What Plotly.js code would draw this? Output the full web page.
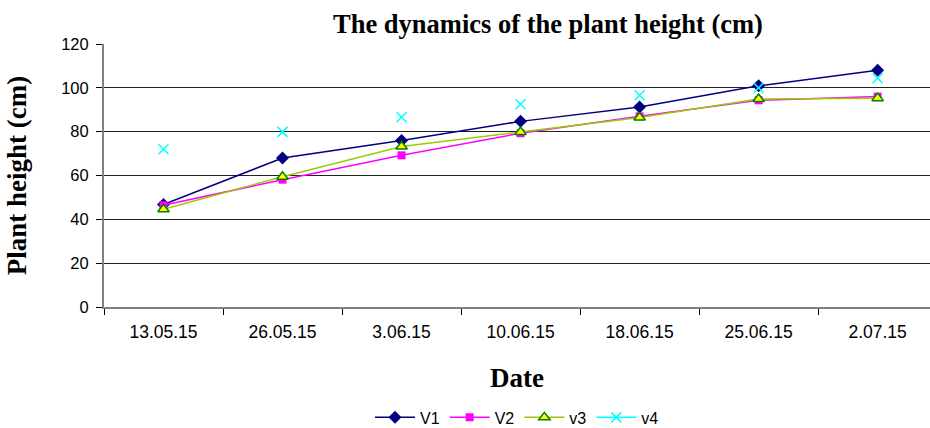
<!DOCTYPE html>
<html>
<head>
<meta charset="utf-8">
<script src="https://cdn.plot.ly/plotly-3.0.1.min.js"></script>
<style>html,body{margin:0;padding:0;background:#fff;overflow:hidden}#chart{width:930px;height:428px}</style>
</head>
<body>
<div id="chart"></div>
<script>
const dates = ["13.05.15","26.05.15","3.06.15","10.06.15","18.06.15","25.06.15","2.07.15"];
const v1 = [46.8, 68.0, 76.0, 84.7, 91.3, 100.9, 108.0];
const v2 = [46.4, 58.1, 69.2, 79.3, 87.0, 94.3, 96.0];
const v3 = [44.6, 59.4, 73.2, 79.8, 86.5, 94.9, 95.3];
const v4 = [72.0, 79.9, 86.6, 92.5, 96.6, 100.0, 104.4];
const yTicks = [0, 20, 40, 60, 80, 100, 120];

const traces = [
  {x: dates, y: v1, name: "V1", mode: "lines+markers",
   line: {color: "#000080", width: 1.5},
   marker: {symbol: "diamond", size: 10, color: "#000080"}},
  {x: dates, y: v2, name: "V2", mode: "lines+markers",
   line: {color: "#FF00FF", width: 1.5},
   marker: {symbol: "square", size: 8, color: "#FF00FF"}},
  {x: dates, y: v3, name: "v3", mode: "lines+markers",
   line: {color: "#99CC00", width: 1.5},
   marker: {symbol: "triangle-up", size: 10, color: "#FFFF00", line: {color: "#008000", width: 1.5}}},
  {x: dates, y: v4, name: "v4", mode: "markers", showlegend: false,
   marker: {symbol: "x-thin", size: 10, color: "#00FFFF", line: {color: "#00FFFF", width: 1.5}}},
  {x: [null], y: [null], name: "v4", mode: "lines+markers",
   line: {color: "#00FFFF", width: 1.5},
   marker: {symbol: "x-thin", size: 10, color: "#00FFFF", line: {color: "#00FFFF", width: 1.5}}}
];

const layout = {
  width: 930, height: 428,
  margin: {l: 104, r: 0, t: 44, b: 121, autoexpand: false},
  paper_bgcolor: "#fff", plot_bgcolor: "#fff",
  showlegend: true,
  title: {text: "The dynamics of the plant height (cm)", x: 548/930, xref: "container", xanchor: "center",
          y: 1 - 24/428, yref: "container", yanchor: "middle",
          font: {family: "Liberation Serif", size: 26.5, color: "#000", weight: "bold"}},
  xaxis: {type: "category", range: [-0.5, 6.44], showgrid: false,
          showline: true, linecolor: "#808080", linewidth: 2,
          ticks: "outside", tickson: "boundaries", ticklen: 6, tickcolor: "#000",
          ticklabelstandoff: 8,
          tickfont: {family: "Liberation Sans", size: 17.5, color: "#000"},
          title: {text: "Date", standoff: 27, font: {family: "Liberation Serif", size: 27, color: "#000", weight: "bold"}}},
  yaxis: {range: [0, 120], tickvals: yTicks, ticktext: yTicks.map(String),
          showgrid: true, gridcolor: "#222", gridwidth: 1,
          showline: true, linecolor: "#808080", linewidth: 2,
          ticks: "outside", ticklen: 6, tickcolor: "#000",
          ticklabelstandoff: 4,
          tickfont: {family: "Liberation Sans", size: 16.5, color: "#000"},
          zeroline: false,
          title: {text: "Plant height (cm)", standoff: 27, font: {family: "Liberation Serif", size: 27, color: "#000", weight: "bold"}}},
  legend: {orientation: "h", x: 0.5, xanchor: "center", y: -0.42, yanchor: "middle",
           font: {family: "Liberation Sans", size: 16, color: "#000"}, itemwidth: 40, tracegroupgap: 0}
};

Plotly.newPlot("chart", traces, layout, {displayModeBar: false, staticPlot: true});
</script>
</body>
</html>
